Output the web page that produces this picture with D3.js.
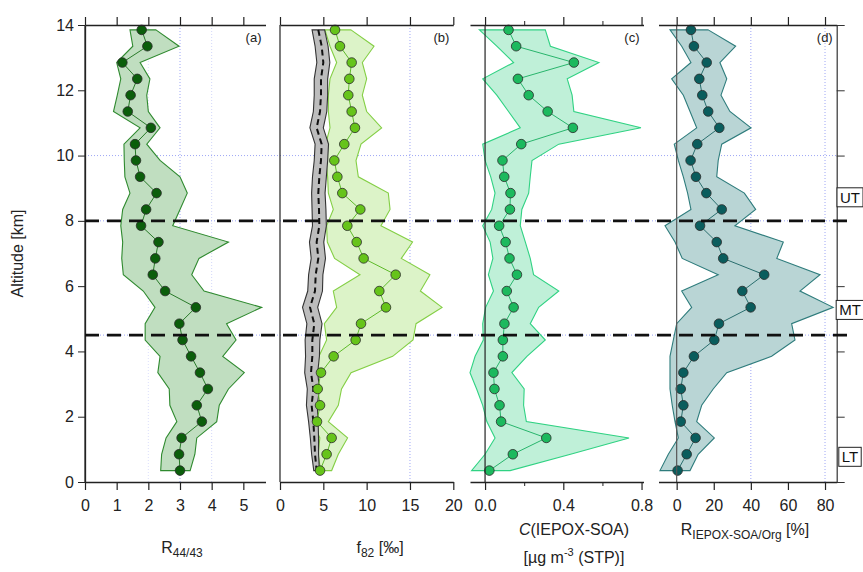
<!DOCTYPE html>
<html><head><meta charset="utf-8">
<script src="https://cdn.jsdelivr.net/npm/d3@7"></script>
<style>
body{margin:0;background:#fff;}
svg{display:block;font-family:"Liberation Sans",Arial,sans-serif;}
</style></head>
<body><svg id="chart" width="863" height="572"></svg>
<script>
// Altitude levels (km), top to bottom
const altitude = [13.85,13.35,12.85,12.35,11.85,11.35,10.85,10.35,9.85,9.35,8.85,8.35,7.85,7.35,6.85,6.35,5.85,5.35,4.85,4.35,3.85,3.35,2.85,2.35,1.85,1.35,0.85,0.35];

// (a) R44/43
const r4443Mean = [1.79,1.97,1.18,1.65,1.44,1.35,2.08,1.58,1.61,1.74,2.26,1.93,1.77,2.32,2.22,2.14,2.53,3.50,2.98,3.08,3.35,3.63,3.88,3.53,3.69,3.05,2.97,3.00];
const r4443Low  = [1.42,1.51,1.00,1.13,1.02,0.90,1.74,1.23,1.24,1.26,1.42,1.19,1.13,1.19,1.16,1.21,1.84,2.21,1.90,1.90,2.37,2.30,2.66,2.68,2.90,2.56,2.42,2.39];
const r4443High = [2.24,2.97,1.74,2.05,1.95,2.00,2.37,1.95,2.37,3.00,3.23,3.00,2.77,4.53,3.60,3.37,3.76,5.58,4.47,4.77,4.35,5.03,4.53,4.24,4.16,3.53,3.47,3.32];

// (b) f82 [permil]
const f82Mean = [6.35,6.92,8.27,8.00,7.88,8.27,8.65,7.42,6.27,6.62,7.19,9.27,7.77,8.85,9.65,13.35,11.46,12.23,9.35,8.73,6.19,4.73,4.35,4.62,4.27,5.96,5.38,4.62];
const f82Low  = [5.19,5.77,6.54,5.77,5.58,5.58,5.77,5.27,5.27,5.50,5.58,6.15,5.38,5.46,6.30,9.23,6.15,6.54,5.12,5.38,4.50,3.10,3.30,3.60,3.70,4.60,4.40,4.70];
const f82High = [8.19,10.85,9.50,10.00,9.50,10.00,11.73,9.35,8.77,9.04,12.50,12.70,11.65,15.30,14.00,17.30,16.20,18.70,15.70,15.35,13.00,8.20,7.10,6.73,5.58,7.80,6.73,5.96];
// (b) background f82 (grey band, dashed median)
const f82BgMid  = [4.42,4.81,5.00,4.73,4.73,4.62,4.23,4.81,4.73,4.54,4.42,4.50,4.54,4.23,4.42,4.12,4.04,3.46,3.96,3.73,3.73,3.58,3.85,3.65,3.85,3.96,4.04,4.23];
const f82BgLow  = [3.70,4.05,4.25,3.95,3.95,3.85,3.45,4.05,3.95,3.75,3.65,3.70,3.75,3.40,3.60,3.30,3.20,2.60,3.10,2.90,2.95,2.85,3.15,3.05,3.30,3.50,3.65,3.90];
const f82BgHigh = [5.15,5.55,5.75,5.50,5.50,5.40,5.00,5.60,5.50,5.35,5.20,5.30,5.35,5.05,5.25,4.95,4.90,4.35,4.85,4.60,4.55,4.35,4.55,4.30,4.40,4.45,4.45,4.55];

// (c) C(IEPOX-SOA) [ug m-3 STP]
const ieMean = [0.120,0.159,0.454,0.168,0.223,0.320,0.449,0.185,0.089,0.098,0.130,0.127,0.072,0.105,0.125,0.163,0.111,0.146,0.099,0.091,0.091,0.043,0.048,0.074,0.082,0.313,0.142,0.022];
const ieLow  = [-0.029,0.060,0.146,-0.012,0.060,0.120,0.180,-0.012,0.000,0.029,0.051,0.034,-0.012,0.026,0.040,0.017,0.043,0.003,-0.012,-0.009,-0.051,-0.077,-0.043,-0.012,0.009,0.051,0.000,-0.069];
const ieHigh = [0.308,0.334,0.582,0.420,0.445,0.454,0.797,0.377,0.240,0.231,0.223,0.188,0.180,0.206,0.231,0.248,0.377,0.274,0.231,0.308,0.214,0.137,0.200,0.197,0.211,0.736,0.437,0.128];

// (d) R IEPOX-SOA/Org [%]
const rieMean = [7.7,9.3,16.2,12.2,13.8,17.0,23.0,11.1,7.5,10.4,16.0,24.3,12.6,21.6,25.1,47.2,35.4,39.9,22.8,20.3,9.3,3.6,2.2,3.6,2.2,10.2,5.4,0.5];
const rieLow  = [-3.6,2.7,7.7,-2.7,3.6,7.2,10.8,-1.3,0.9,3.6,5.9,7.7,-6.3,-0.9,3.0,22.4,2.7,8.1,0.0,-1.8,-3.6,-3.6,-3.6,-2.4,-0.9,0.9,-4.5,-9.0];
const rieHigh = [17.0,31.8,23.3,27.0,23.9,28.7,40.1,24.3,22.4,21.6,36.5,42.6,31.4,57.5,54.0,77.3,66.5,84.4,62.0,63.8,51.2,27.0,19.7,13.5,10.8,20.3,11.6,7.2];

// Tick values
const altTicks = [0,2,4,6,8,10,12,14];
const ticksA = [0,1,2,3,4,5];
const ticksB = [0,5,10,15,20];
const ticksC = [0,0.2,0.4,0.6,0.8];
const ticksCLabeled = [0,0.4,0.8];
const ticksD = [0,20,40,60,80];
const layerLines = [8,4.5];
const layerNames = ["UT","MT","LT"];
const layerLabelAlt = [8.4,4.95,0.45];
const panelTags = ["(a)","(b)","(c)","(d)"];

const svg = d3.select("#chart");
const yTop = 25, yBot = 482;
const y = d3.scaleLinear().domain([0,14]).range([yBot,yTop]);
const FONT = "'Liberation Sans',Arial,sans-serif";

const zip = (m,l,h)=>altitude.map((a,i)=>({alt:a,mean:m[i],lo:l[i],hi:h[i]}));

const panels = [
  {tag:panelTags[0], x:d3.scaleLinear().domain([0,5.7]).range([85,265.5]), data:zip(r4443Mean,r4443Low,r4443High),
   ticks:ticksA, labels:ticksA, fmt:d3.format("d"), grid:[{v:2,o:0.35},{v:3,o:1},{v:4,o:0.45}],
   fill:"#c0dec0", stroke:"#2f8a2f", line:"#2a7a2a", pt:"#0b5e0b"},
  {tag:panelTags[1], x:d3.scaleLinear().domain([0,20]).range([280,453.3]), data:zip(f82Mean,f82Low,f82High),
   ticks:ticksB, labels:ticksB, fmt:d3.format("d"), grid:[{v:15,o:1}],
   fill:"#dcf3c8", stroke:"#84cf45", line:"#5fbb2a", pt:"#66c41a",
   bg:zip(f82BgMid,f82BgLow,f82BgHigh)},
  {tag:panelTags[2], x:d3.scaleLinear().domain([-0.077,0.81]).range([470,643.5]), data:zip(ieMean,ieLow,ieHigh),
   ticks:ticksC, labels:ticksCLabeled, fmt:d3.format(".1f"), grid:[], minor:[0.2,0.6],
   fill:"#bff0d8", stroke:"#30d283", line:"#28b56c", pt:"#1cb95e"},
  {tag:panelTags[3], x:d3.scaleLinear().domain([-9.8,86.3]).range([658.5,836.7]), data:zip(rieMean,rieLow,rieHigh),
   ticks:ticksD, labels:ticksD, fmt:d3.format("d"), grid:[{v:40,o:1},{v:80,o:1}],
   fill:"#b9d5d5", stroke:"#2e7c7c", line:"#2a6e6e", pt:"#0a5d5d"}
];

const gridCol = "#9da6f5";

// horizontal grid at 10 km and under the layer lines
const xL = 85, xR = 836.7;
[10].concat(layerLines).forEach(a=>{
  svg.append("line").attr("x1",xL).attr("x2",xR).attr("y1",y(a)).attr("y2",y(a))
    .attr("stroke",gridCol).attr("stroke-width",1).attr("stroke-dasharray","1,2");
});

panels.forEach((p,pi)=>{
  const g = svg.append("g");
  const [x0,x1] = p.x.range();
  p.grid.forEach(gr=>{
    g.append("line").attr("x1",p.x(gr.v)).attr("x2",p.x(gr.v)).attr("y1",yTop).attr("y2",yBot)
      .attr("stroke",gridCol).attr("stroke-opacity",gr.o).attr("stroke-width",1).attr("stroke-dasharray","1,2");
  });
  const area = d3.area().y(d=>y(d.alt)).x0(d=>p.x(d.lo)).x1(d=>p.x(d.hi));
  g.append("path").datum(p.data).attr("d",area)
    .attr("fill",p.fill).attr("stroke",p.stroke).attr("stroke-width",1.1).attr("stroke-linejoin","miter");
  if(p.bg){
    g.append("path").datum(p.bg).attr("d",area)
      .attr("fill","#bdbdbd").attr("stroke","#333").attr("stroke-width",1.1);
    g.append("path").datum(p.bg).attr("d",d3.line().y(d=>y(d.alt)).x(d=>p.x(d.mean)))
      .attr("fill","none").attr("stroke","#111").attr("stroke-width",2).attr("stroke-dasharray","6,4");
  }
  g.append("path").datum(p.data).attr("d",d3.line().y(d=>y(d.alt)).x(d=>p.x(d.mean)))
    .attr("fill","none").attr("stroke",p.line).attr("stroke-width",1);
  g.selectAll("circle.pt").data(p.data).join("circle").attr("class","pt")
    .attr("cx",d=>p.x(d.mean)).attr("cy",d=>y(d.alt)).attr("r",4.8)
    .attr("fill",p.pt).attr("stroke","#2a2a2a").attr("stroke-width",0.8);

  g.append("line").attr("x1",p.x(0)).attr("x2",p.x(0)).attr("y1",yTop).attr("y2",yBot)
    .attr("stroke",pi===3?"#555":"#222").attr("stroke-width",1.2);

  const major = p.minor ? p.ticks.filter(t=>!p.minor.includes(t)) : p.ticks;
  const bAx = d3.axisBottom(p.x).tickValues(major).tickSize(8).tickSizeOuter(0).tickPadding(10)
    .tickFormat(d=>p.labels.includes(d)?p.fmt(d):"");
  const gb = g.append("g").attr("transform",`translate(0,${yBot})`).call(bAx);
  const tAx = d3.axisTop(p.x).tickValues(major).tickSize(8).tickSizeOuter(0).tickFormat("");
  const gt = g.append("g").attr("transform",`translate(0,${yTop})`).call(tAx);
  [gb,gt].forEach(ax=>{
    ax.select(".domain").attr("stroke","#222").attr("stroke-width",1.3);
    ax.selectAll(".tick line").attr("stroke","#222").attr("stroke-width",1.2);
    ax.selectAll("text").attr("font-size",16).attr("fill","#222").attr("font-family",FONT);
  });
  if(p.minor){
    g.append("g").attr("transform",`translate(0,${yBot})`)
      .call(d3.axisBottom(p.x).tickValues(p.minor).tickSize(4).tickFormat(""))
      .call(s=>{s.select(".domain").remove(); s.selectAll("line").attr("stroke","#222");});
    g.append("g").attr("transform",`translate(0,${yTop})`)
      .call(d3.axisTop(p.x).tickValues(p.minor).tickSize(4).tickFormat(""))
      .call(s=>{s.select(".domain").remove(); s.selectAll("line").attr("stroke","#222");});
  }
  g.append("text").attr("x",x1-4).attr("y",yTop+17).attr("text-anchor","end")
    .attr("font-size",13).attr("fill","#222").text(p.tag);
});

// left altitude axis
const la = svg.append("g").attr("transform","translate(85,0)")
  .call(d3.axisLeft(y).tickValues(altTicks).tickSize(7).tickSizeOuter(0).tickPadding(4).tickFormat(d3.format("d")));
la.select(".domain").attr("stroke","#222").attr("stroke-width",1.3);
la.selectAll("line").attr("stroke","#222");
la.selectAll("text").attr("font-size",16).attr("fill","#222").attr("font-family",FONT);
svg.append("text").attr("transform",`translate(23,${y(7)}) rotate(-90)`).attr("text-anchor","middle")
  .attr("font-size",16).attr("fill","#222").text("Altitude [km]");

// right axis of panel d
const ra = svg.append("g").attr("transform","translate(836.7,0)")
  .call(d3.axisRight(y).tickValues(altTicks).tickSize(8).tickSizeOuter(0).tickFormat(""));
ra.select(".domain").attr("stroke","#333").attr("stroke-width",1.2);
ra.selectAll("line").attr("stroke","#333");

// layer boundaries
layerLines.forEach(a=>{
  svg.append("line").attr("x1",85).attr("x2",855).attr("y1",y(a)).attr("y2",y(a))
    .attr("stroke","#111").attr("stroke-width",2.8).attr("stroke-dasharray","14,8");
});
layerNames.forEach((n,i)=>{
  const cy = y(layerLabelAlt[i]) - 10;
  const lg = svg.append("g");
  const r = lg.append("rect");
  const t = lg.append("text").attr("x",850).attr("y",cy+5).attr("text-anchor","middle")
    .attr("font-size",15).attr("fill","#111").text(n);
  const bb = t.node().getBBox();
  r.attr("x",bb.x-3).attr("y",bb.y-1).attr("width",bb.width+6).attr("height",bb.height+2)
    .attr("fill","#fff").attr("stroke","#222").attr("stroke-width",1);
});

// axis titles
const tt = svg.append("g").attr("fill","#222").attr("font-size",16);
let t1 = tt.append("text").attr("x",182).attr("y",553).attr("text-anchor","middle");
t1.append("tspan").text("R");
t1.append("tspan").attr("font-size",12).attr("dy",4).text("44/43");

let t2 = tt.append("text").attr("x",380).attr("y",553).attr("text-anchor","middle");
t2.append("tspan").text("f");
t2.append("tspan").attr("font-size",12).attr("dy",4).text("82");
t2.append("tspan").attr("dy",-4).text(" [‰]");

let t3 = tt.append("text").attr("x",574).attr("y",535).attr("text-anchor","middle");
t3.append("tspan").attr("font-style","italic").text("C");
t3.append("tspan").text("(IEPOX-SOA)");
let t4 = tt.append("text").attr("x",574).attr("y",563).attr("text-anchor","middle");
t4.append("tspan").text("[µg m");
t4.append("tspan").attr("font-size",11).attr("dy",-7).text("-3");
t4.append("tspan").attr("dy",7).text(" (STP)]");

let t5 = tt.append("text").attr("x",745).attr("y",535).attr("text-anchor","middle");
t5.append("tspan").text("R");
t5.append("tspan").attr("font-size",12).attr("dy",4).text("IEPOX-SOA/Org");
t5.append("tspan").attr("dy",-4).text(" [%]");
</script></body></html>
